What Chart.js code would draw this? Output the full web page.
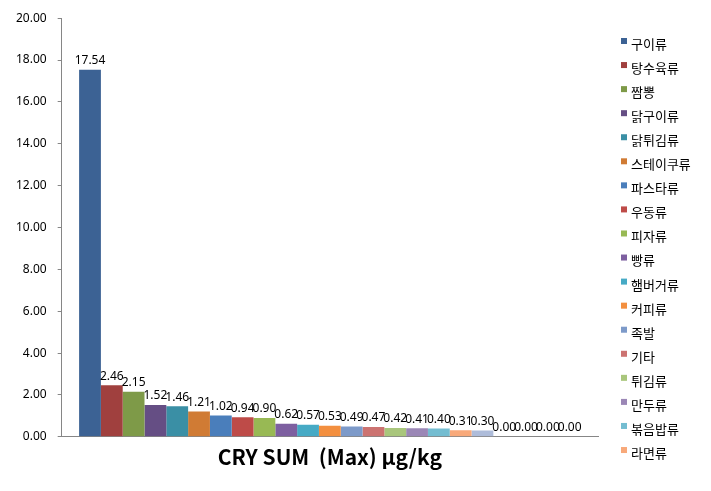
<!DOCTYPE html>
<html>
<head>
<meta charset="utf-8">
<script src="https://cdn.jsdelivr.net/npm/chart.js@4"></script>
<style>
    body { margin: 0; background: #fff; }
    #wrap { width: 711px; height: 491px; position: relative; }
</style>
</head>
<body>
<div id="wrap"><canvas id="cry-chart"></canvas></div>
<script>
// data
const category = ['CRY SUM'];
const seriesNames = [
    '구이류', '탕수육류', '짬뽕', '닭구이류', '닭튀김류', '스테이쿠류',
    '파스타류', '우동류', '피자류', '빵류', '햄버거류', '커피류',
    '족발', '기타', '튀김류', '만두류', '볶음밥류', '라면류',
    '계열19', '계열20', '계열21', '계열22', '계열23'
];
const seriesValues = [
    17.54, 2.46, 2.15, 1.52, 1.46, 1.21,
    1.02, 0.94, 0.90, 0.62, 0.57, 0.53,
    0.49, 0.47, 0.42, 0.41, 0.40, 0.31,
    0.30, 0.00, 0.00, 0.00, 0.00
];
const seriesColors = [
    '#3c6294', '#a0403e', '#7e9a48', '#654e84', '#3a8fa5', '#d07b34',
    '#4a7ebb', '#be4b48', '#98b954', '#7d5fa0', '#46aac5', '#f38f3f',
    '#7d9ac9', '#cc7371', '#a9c67c', '#9b87b6', '#74bdd1', '#f8a97a',
    '#aebcda', '#c9d3e8', '#e0b4b3', '#cfdcb6', '#c6bbd6'
];
const yTicks = [0, 2, 4, 6, 8, 10, 12, 14, 16, 18, 20];
const legendCount = 18; // only the first 18 series fit in the legend

const datasets = seriesNames.map((name, i) => ({
    label: name,
    data: [seriesValues[i]],
    backgroundColor: seriesColors[i],
    borderWidth: 0
}));

// value labels above each bar
const valueLabels = {
    id: 'valueLabels',
    afterDatasetsDraw(chart) {
        const ctx = chart.ctx;
        ctx.save();
        ctx.font = '12px "Noto Sans", "Liberation Sans", sans-serif';
        ctx.fillStyle = '#000';
        ctx.textAlign = 'center';
        ctx.textBaseline = 'bottom';
        chart.data.datasets.forEach((ds, i) => {
            const bar = chart.getDatasetMeta(i).data[0];
            ctx.fillText(ds.data[0].toFixed(2), bar.x, bar.y - 3);
        });
        ctx.restore();
    }
};

// legend on the right, drawn like the spreadsheet one
const sideLegend = {
    id: 'sideLegend',
    afterDraw(chart) {
        const ctx = chart.ctx;
        const x0 = chart.chartArea.right + 23;
        ctx.save();
        ctx.font = '13px "Noto Sans CJK KR", sans-serif';
        ctx.textBaseline = 'middle';
        ctx.textAlign = 'left';
        chart.data.datasets.slice(0, legendCount).forEach((ds, i) => {
            const y = 44 + i * 24.06;
            ctx.fillStyle = ds.backgroundColor;
            ctx.fillRect(x0, y - 6, 6, 6);
            ctx.fillStyle = '#000';
            ctx.fillText(ds.label, x0 + 10, y);
        });
        ctx.restore();
    }
};

new Chart(document.getElementById('cry-chart'), {
    type: 'bar',
    data: { labels: category, datasets: datasets },
    plugins: [valueLabels, sideLegend],
    options: {
        responsive: true,
        maintainAspectRatio: false,
        animation: false,
        datasets: {
            bar: { categoryPercentage: 0.935, barPercentage: 1 }
        },
        layout: { padding: { left: 5, top: 6, right: 113, bottom: 21 } },
        plugins: {
            tooltip: { enabled: false },
            legend: { display: false }
        },
        scales: {
            x: {
                grid: { display: false },
                border: { color: '#868686' },
                ticks: { display: false, padding: 0 },
                title: {
                    display: true,
                    text: 'CRY SUM  (Max) μg/kg',
                    color: '#000',
                    font: { family: '"Noto Sans CJK KR", sans-serif', size: 21, weight: 'bold' },
                    padding: { top: 0, bottom: 0 }
                }
            },
            y: {
                min: 0,
                max: 20,
                afterBuildTicks: axis => { axis.ticks = yTicks.map(v => ({ value: v })); },
                grid: { drawOnChartArea: false, drawTicks: true, tickLength: 4, color: '#868686' },
                border: { color: '#868686' },
                ticks: {
                    padding: 11,
                    color: '#000',
                    font: { family: '"Noto Sans", "Liberation Sans", sans-serif', size: 12 },
                    callback: v => Number(v).toFixed(2)
                }
            }
        }
    }
});
</script>
</body>
</html>
